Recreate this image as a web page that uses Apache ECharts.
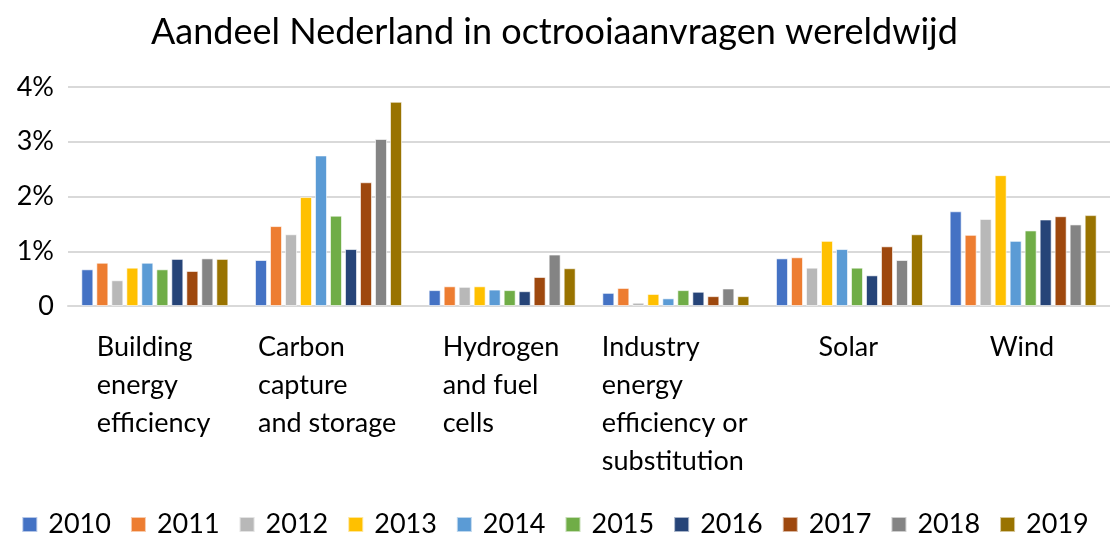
<!DOCTYPE html>
<html>
<head>
<meta charset="utf-8">
<script src="https://cdn.jsdelivr.net/npm/echarts@6/dist/echarts.min.js"></script>
<style>
  html, body { margin: 0; padding: 0; background: #fff; }
  #chart { width: 1110px; height: 539px; }
</style>
</head>
<body>
<div id="chart"></div>
<script>
// Patent application share of the Netherlands, per technology and year (in %)
const categories = [
  'Building\nenergy\nefficiency',
  'Carbon\ncapture\nand storage',
  'Hydrogen\nand fuel\ncells',
  'Industry\nenergy\nefficiency or\nsubstitution',
  'Solar',
  'Wind'
];
const years = ['2010', '2011', '2012', '2013', '2014', '2015', '2016', '2017', '2018', '2019'];

const v2010 = [0.67, 0.84, 0.29, 0.24, 0.87, 1.73];
const v2011 = [0.79, 1.46, 0.36, 0.33, 0.89, 1.30];
const v2012 = [0.47, 1.31, 0.35, 0.06, 0.70, 1.59];
const v2013 = [0.70, 1.99, 0.36, 0.22, 1.19, 2.39];
const v2014 = [0.79, 2.75, 0.30, 0.14, 1.04, 1.19];
const v2015 = [0.67, 1.65, 0.29, 0.29, 0.70, 1.38];
const v2016 = [0.86, 1.04, 0.27, 0.26, 0.56, 1.58];
const v2017 = [0.64, 2.26, 0.53, 0.18, 1.09, 1.64];
const v2018 = [0.87, 3.05, 0.94, 0.32, 0.84, 1.49];
const v2019 = [0.86, 3.73, 0.69, 0.18, 1.31, 1.66];
const seriesValues = [v2010, v2011, v2012, v2013, v2014, v2015, v2016, v2017, v2018, v2019];

const yTicks = [0, 1, 2, 3, 4];

const colors = ['#4472C4', '#ED7D31', '#B8B8B8', '#FFC000', '#5B9BD5',
                '#70AD47', '#264478', '#9E480E', '#848484', '#997300'];

const FONT = 'Lato';
const LABEL_SIZE = 27;

// Width of the widest line of each category label, so the lines can be
// left-aligned inside a block that is centred under its group of bars.
const ctx = document.createElement('canvas').getContext('2d');
ctx.font = LABEL_SIZE + 'px ' + FONT;
const rich = {};
categories.forEach((c, i) => {
  const w = Math.max(...c.split('\n').map(s => ctx.measureText(s).width));
  rich['c' + i] = {
    width: Math.ceil(w) + 2,
    align: 'left',
    fontFamily: FONT,
    fontSize: LABEL_SIZE,
    lineHeight: 38,
    color: '#000'
  };
});

const chart = echarts.init(document.getElementById('chart'), null, { renderer: 'canvas' });

chart.setOption({
  animation: false,
  color: colors,
  textStyle: { fontFamily: FONT },
  title: {
    text: 'Aandeel Nederland in octrooiaanvragen wereldwijd',
    left: 146,
    top: 9,
    textStyle: { fontFamily: FONT, fontSize: 36, fontWeight: 'normal', color: '#000' }
  },
  legend: {
    bottom: -4,
    left: 'center',
    itemWidth: 15,
    itemHeight: 15,
    itemGap: 19,
    icon: 'rect',
    textStyle: { fontFamily: FONT, fontSize: 27, color: '#000', padding: [0, 0, 0, 6] },
    data: years
  },
  grid: { left: 68, right: -12, top: 87, bottom: 233 },
  xAxis: {
    type: 'category',
    data: categories,
    axisLine: { show: true, lineStyle: { color: '#D9D9D9', width: 2 } },
    axisTick: { show: false },
    axisLabel: {
      interval: 0,
      margin: 22,
      verticalAlign: 'top',
      formatter: (val) => {
        const i = categories.indexOf(val);
        return '{c' + i + '|' + val + '}';
      },
      rich: rich
    }
  },
  yAxis: {
    type: 'value',
    min: yTicks[0],
    max: yTicks[yTicks.length - 1],
    interval: 1,
    axisLine: { show: false },
    axisTick: { show: false },
    splitLine: { lineStyle: { color: '#D9D9D9', width: 2 } },
    axisLabel: {
      margin: 14,
      fontFamily: FONT,
      fontSize: LABEL_SIZE,
      color: '#000',
      formatter: (v) => (v === 0 ? '0' : v + '%')
    }
  },
  series: years.map((y, i) => ({
    name: y,
    type: 'bar',
    data: seriesValues[i],
    barWidth: 12,
    barGap: '25%',
    itemStyle: { borderColor: 'rgba(255,255,255,0.6)', borderWidth: 1 }
  }))
});
</script>
</body>
</html>
